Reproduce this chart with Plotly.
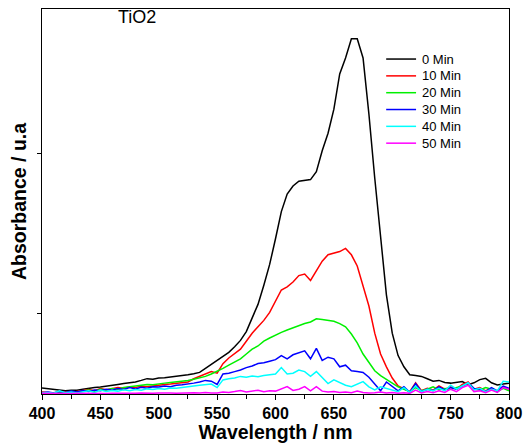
import plotly.graph_objects as go

# Wavelength grid (nm)
wavelength = list(range(400, 801, 5))

# Absorbance spectra of the dye over TiO2 at each irradiation time
abs_0min = [
    0.037, 0.032, 0.027, 0.022, 0.020, 0.024, 0.023, 0.030, 0.033, 0.040,
    0.044, 0.048, 0.054, 0.060, 0.065, 0.068, 0.075, 0.085, 0.096, 0.092,
    0.100, 0.102, 0.106, 0.110, 0.117, 0.120, 0.127, 0.135, 0.160, 0.185,
    0.205, 0.230, 0.260, 0.295, 0.335, 0.390, 0.470, 0.560, 0.680, 0.810,
    0.970, 1.140, 1.250, 1.300, 1.330, 1.335, 1.340, 1.390, 1.520, 1.630,
    1.780, 2.000, 2.100, 2.220, 2.220, 2.100, 1.750, 1.350, 0.980, 0.620,
    0.380, 0.240, 0.170, 0.120, 0.115, 0.110, 0.095, 0.080, 0.085, 0.072,
    0.068, 0.075, 0.078, 0.058, 0.070, 0.090, 0.098, 0.070, 0.056, 0.062,
    0.067,
]
abs_10min = [
    0.012, 0.008, 0.006, 0.010, 0.014, 0.010, 0.016, 0.022, 0.028, 0.020,
    0.034, 0.026, 0.032, 0.040, 0.036, 0.044, 0.040, 0.050, 0.046, 0.052,
    0.056, 0.060, 0.062, 0.066, 0.070, 0.075, 0.095, 0.110, 0.125, 0.140,
    0.130, 0.190, 0.225, 0.250, 0.280, 0.330, 0.380, 0.420, 0.460, 0.510,
    0.580, 0.650, 0.670, 0.700, 0.740, 0.750, 0.710, 0.770, 0.830, 0.870,
    0.880, 0.890, 0.910, 0.870, 0.800, 0.680, 0.550, 0.380, 0.250, 0.170,
    0.100, 0.050, 0.030, 0.015, 0.070, 0.020, 0.035, 0.025, 0.050, 0.030,
    0.045, 0.030, 0.060, 0.075, 0.030, 0.040, 0.020, 0.035, 0.015, 0.045,
    0.030,
]
abs_20min = [
    0.010, 0.005, 0.008, 0.012, 0.008, 0.015, 0.012, 0.020, 0.025, 0.018,
    0.030, 0.025, 0.035, 0.030, 0.040, 0.045, 0.050, 0.055, 0.060, 0.058,
    0.065, 0.068, 0.072, 0.075, 0.080, 0.085, 0.092, 0.100, 0.110, 0.125,
    0.140, 0.160, 0.180, 0.200, 0.220, 0.250, 0.280, 0.300, 0.330, 0.350,
    0.370, 0.385, 0.400, 0.415, 0.430, 0.440, 0.450, 0.470, 0.465, 0.460,
    0.455, 0.440, 0.420, 0.375, 0.320, 0.250, 0.200, 0.145, 0.115, 0.090,
    0.065, 0.045, 0.030, 0.015, 0.040, 0.020, 0.030, 0.045, 0.025, 0.035,
    0.030, 0.040, 0.050, 0.065, 0.030, 0.025, 0.040, 0.030, 0.015, 0.035,
    0.020,
]
abs_30min = [
    0.008, 0.012, 0.006, 0.015, 0.010, 0.018, 0.012, 0.022, 0.015, 0.025,
    0.020, 0.030, 0.024, 0.035, 0.028, 0.040, 0.032, 0.042, 0.036, 0.045,
    0.044, 0.050, 0.046, 0.055, 0.058, 0.062, 0.068, 0.075, 0.085, 0.080,
    0.060, 0.125, 0.130, 0.140, 0.150, 0.165, 0.175, 0.190, 0.195, 0.205,
    0.215, 0.240, 0.220, 0.245, 0.260, 0.270, 0.220, 0.285, 0.210, 0.230,
    0.220, 0.170, 0.180, 0.145, 0.140, 0.135, 0.105, 0.060, 0.020, 0.075,
    0.050, 0.020, 0.045, 0.010, 0.065, 0.015, 0.030, 0.020, 0.045, 0.025,
    0.040, 0.030, 0.050, 0.070, 0.035, 0.030, 0.015, 0.040, 0.020, 0.050,
    0.035,
]
abs_40min = [
    0.006, 0.010, 0.005, 0.020, 0.008, 0.012, 0.006, 0.015, 0.020, 0.010,
    0.025, 0.015, 0.022, 0.018, 0.026, 0.020, 0.028, 0.024, 0.032, 0.028,
    0.034, 0.030, 0.038, 0.036, 0.042, 0.048, 0.050, 0.055, 0.058, 0.062,
    0.040, 0.088, 0.095, 0.100, 0.110, 0.105, 0.112, 0.108, 0.115, 0.118,
    0.125, 0.165, 0.125, 0.130, 0.150, 0.140, 0.110, 0.140, 0.100, 0.065,
    0.088, 0.070, 0.055, 0.045, 0.060, 0.077, 0.045, 0.025, 0.045, 0.035,
    0.025, 0.015, 0.040, 0.010, 0.050, 0.015, 0.030, 0.020, 0.035, 0.020,
    0.055, 0.030, 0.050, 0.070, 0.025, 0.035, 0.015, 0.030, 0.020, 0.080,
    0.075,
]
abs_50min = [
    0.004, 0.003, 0.005, 0.003, 0.004, 0.003, 0.005, 0.004, 0.003, 0.005,
    0.004, 0.003, 0.005, 0.004, 0.003, 0.005, 0.004, 0.006, 0.004, 0.005,
    0.006, 0.004, 0.006, 0.005, 0.007, 0.005, 0.008, 0.006, 0.009, 0.007,
    0.006, 0.012, 0.010, 0.015, 0.022, 0.012, 0.018, 0.024, 0.014, 0.020,
    0.018, 0.030, 0.046, 0.022, 0.030, 0.046, 0.020, 0.046, 0.018, 0.012,
    0.015, 0.010, 0.012, 0.008, 0.018, 0.010, 0.006, 0.008, 0.012, 0.006,
    0.010, 0.005, 0.008, 0.004, 0.025, 0.006, 0.015, 0.008, 0.020, 0.010,
    0.030, 0.015, 0.040, 0.055, 0.015, 0.020, 0.008, 0.025, 0.010, 0.040,
    0.030,
]

series_names = ["0 Min", "10 Min", "20 Min", "30 Min", "40 Min", "50 Min"]
series_values = [abs_0min, abs_10min, abs_20min, abs_30min, abs_40min, abs_50min]
series_colors = ["#000000", "#ff0000", "#00f000", "#0000ff", "#00ffff", "#ff00ff"]

x_ticks = [400, 450, 500, 550, 600, 650, 700, 750, 800]
y_ticks = [0.5, 1.5]

base_font = "Arial, Liberation Sans, sans-serif"

fig = go.Figure()
for name, vals, col in zip(series_names, series_values, series_colors):
    fig.add_trace(go.Scatter(
        x=wavelength, y=vals, mode="lines", name=name,
        line=dict(color=col, width=1.5), showlegend=False,
    ))

# Compact key in the upper right: a short line sample plus label per series
key_x0, key_x1, key_text_x = 0.737, 0.801, 0.810
key_top, key_step = 0.870, 0.0437
shapes = []
annotations = [dict(
    text="TiO2", x=0.204, y=0.979, xref="paper", yref="paper",
    xanchor="center", yanchor="middle", showarrow=False,
    font=dict(size=18, family=base_font, color="black"),
)]
for i, (name, col) in enumerate(zip(series_names, series_colors)):
    yk = key_top - i * key_step
    shapes.append(dict(type="line", xref="paper", yref="paper",
                       x0=key_x0, x1=key_x1, y0=yk, y1=yk,
                       line=dict(color=col, width=1.5)))
    annotations.append(dict(text=name, x=key_text_x, y=yk, xref="paper", yref="paper",
                            xanchor="left", yanchor="middle", showarrow=False,
                            font=dict(size=13, family=base_font, color="black")))

fig.update_layout(
    width=530, height=443,
    margin=dict(l=42, r=21, t=9, b=49, autoexpand=False),
    paper_bgcolor="white", plot_bgcolor="white",
    font=dict(family=base_font, color="black"),
    showlegend=False,
    shapes=shapes,
    annotations=annotations,
)

fig.update_xaxes(
    range=[400, 800], tickvals=x_ticks, automargin=False,
    showline=True, linecolor="black", linewidth=1.3, mirror=True,
    ticks="outside", ticklen=5, tickwidth=1.2, tickcolor="black",
    minor=dict(dtick=25, ticks="outside", ticklen=4, tickcolor="black", tickwidth=1.2),
    showgrid=False, zeroline=False,
    tickfont=dict(size=16, family=base_font, weight="bold"),
    title=dict(text="Wavelength / nm", standoff=4,
               font=dict(size=19.5, family=base_font, weight="bold")),
)
fig.update_yaxes(
    range=[0, 2.406], tickvals=y_ticks, showticklabels=False, automargin=False,
    showline=True, linecolor="black", linewidth=1.3, mirror=True,
    ticks="outside", ticklen=4, tickwidth=1.2, tickcolor="black",
    showgrid=False, zeroline=False,
    title=dict(text="Absorbance / u.a", standoff=5,
               font=dict(size=19.5, family=base_font, weight="bold")),
)

fig.write_html("out.html")
